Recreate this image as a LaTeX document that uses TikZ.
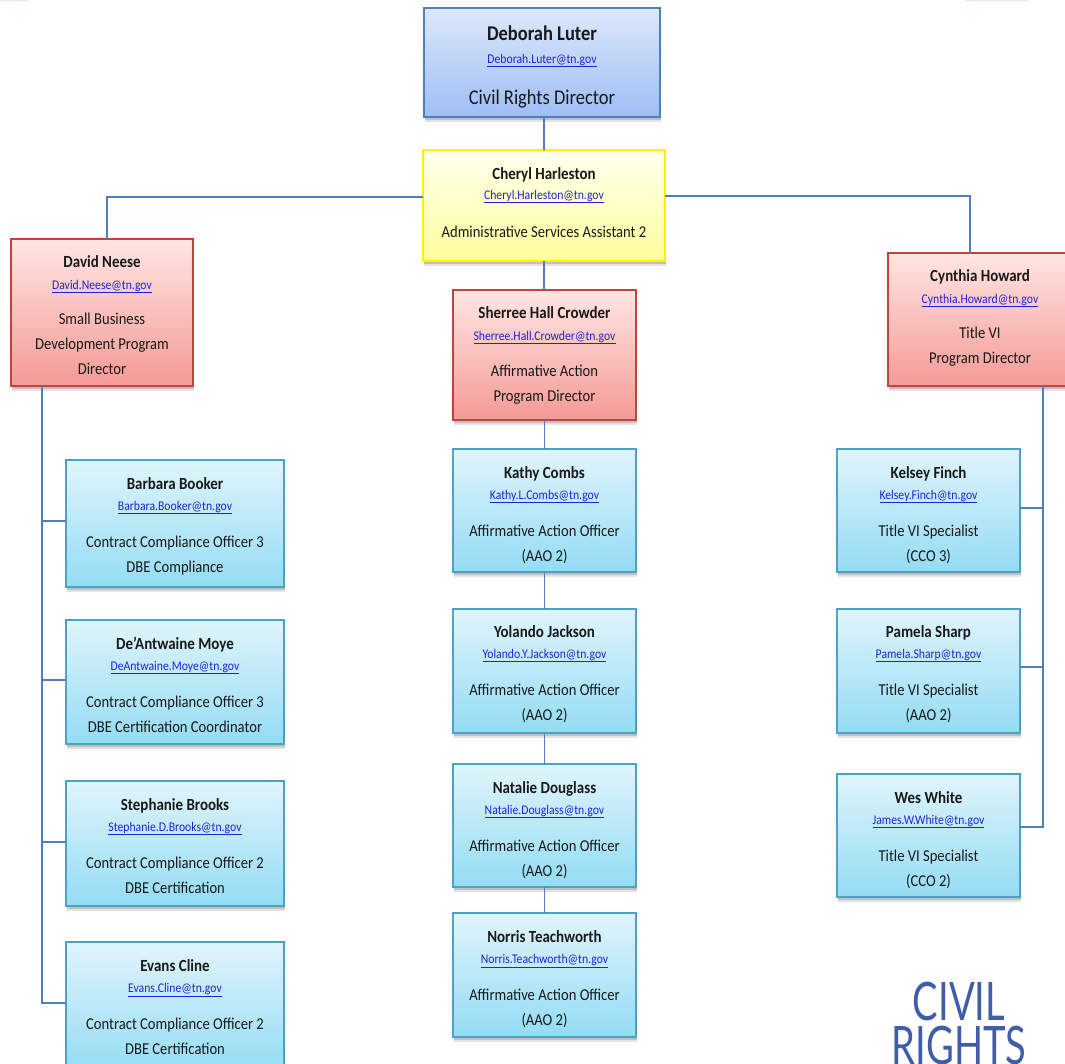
\documentclass[tikz,border=0pt]{standalone}
\usepackage{graphicx}
\usepackage{fontspec}
\setmainfont{Carlito}[FakeStretch=0.88]
\newfontfamily\logofont{Lato}
\usetikzlibrary{shadows,calc}
\definecolor{linkblue}{HTML}{2222D8}
\definecolor{wire}{HTML}{4F7FBC}
\definecolor{bluetop}{HTML}{DDE8FB}
\definecolor{bluebot}{HTML}{9EBEF5}
\definecolor{redtop}{HTML}{FFE6E3}
\definecolor{redbot}{HTML}{F49A96}
\definecolor{redline}{HTML}{C4413D}
\definecolor{cyantop}{HTML}{E0F5FC}
\definecolor{cyanbot}{HTML}{93DCF3}
\definecolor{cyanline}{HTML}{4BA3BF}
\definecolor{yeltop}{HTML}{FFFFF0}
\definecolor{yelbot}{HTML}{FFFF9A}
\definecolor{logoblue}{HTML}{3F5DA8}
\newcommand{\nm}[1]{{\fontsize{17}{25}\selectfont\textbf{#1}}}
\newcommand{\ml}[1]{{\fontsize{13.3}{25}\selectfont\color{linkblue}\underline{#1}}}
\newcommand{\pbox}[9]{%
  \node[person,#2,minimum width={(#5-#3)*1pt},minimum height={(#6-#4)*1pt}] (#1)
    at ({(#3+#5)/2},{(#4+#6)/2}) {\rule{0pt}{#7pt}#9\rule[-#8pt]{0pt}{#8pt}};}
\tikzset{
  person/.style={rectangle,inner sep=0pt,outer sep=0pt,align=center,text=black!90,
    font=\fontsize{16.6}{25}\selectfont,
    drop shadow={shadow xshift=1pt,shadow yshift=-4.5pt,opacity=.16,fill=black!70},
    drop shadow={shadow xshift=.5pt,shadow yshift=-2.5pt,opacity=.22,fill=black!70}},
  bluebox/.style={draw=wire,line width=2pt,top color=bluetop,bottom color=bluebot},
  yellowbox/.style={draw=yellow,line width=2.5pt,top color=yeltop,bottom color=yelbot},
  redbox/.style={draw=redline,line width=1.5pt,top color=redtop,bottom color=redbot},
  cyanbox/.style={draw=cyanline,line width=1.6pt,top color=cyantop,bottom color=cyanbot},
  wireline/.style={draw=wire,line width=1.7pt},
  logo/.style={inner sep=0pt,align=center,text=logoblue,font=\logofont\fontsize{53}{44}\selectfont}
}
\begin{document}
\begin{tikzpicture}[x=1pt,y=-1pt]
\useasboundingbox (0,0) rectangle (1065,1063);
\clip (0,0) rectangle (1065,1063);
\fill[bluetop] (0,0) rectangle (28,1.2);
\fill[bluetop] (965,0) rectangle (1028,1.2);
\pbox{deb}{bluebox}{424}{8}{660}{117}{32}{13}{{\fontsize{21}{25}\selectfont\textbf{Deborah Luter}}\\[-2pt]\ml{Deborah.Luter@tn.gov}\\[16pt]{\fontsize{21}{25}\selectfont Civil Rights Director}}
\pbox{che}{yellowbox}{423}{150}{665}{261}{29}{24}{\nm{Cheryl Harleston}\\[-5pt]\ml{Cheryl.Harleston@tn.gov}\\[13pt]Administrative Services Assistant 2}
\pbox{dav}{redbox}{11}{239}{193}{386}{28}{12}{\nm{David Neese}\\[-3pt]\ml{David.Neese@tn.gov}\\[10pt]Small Business\\Development Program\\Director}
\pbox{cyn}{redbox}{888}{253}{1072}{386}{28}{23}{\nm{Cynthia Howard}\\[-3pt]\ml{Cynthia.Howard@tn.gov}\\[10pt]Title VI\\Program Director}
\pbox{she}{redbox}{453}{290}{636}{420}{28}{19}{\nm{Sherree Hall Crowder}\\[-3pt]\ml{Sherree.Hall.Crowder@tn.gov}\\[11pt]Affirmative Action\\Program Director}
\pbox{kat}{cyanbox}{453}{449}{636}{572}{29}{11}{\nm{Kathy Combs}\\[-4pt]\ml{Kathy.L.Combs@tn.gov}\\[12pt]Affirmative Action Officer\\(AAO 2)}
\pbox{yol}{cyanbox}{453}{609}{636}{733}{28}{13}{\nm{Yolando Jackson}\\[-4pt]\ml{Yolando.Y.Jackson@tn.gov}\\[12pt]Affirmative Action Officer\\(AAO 2)}
\pbox{nat}{cyanbox}{453}{764}{636}{887}{29}{11}{\nm{Natalie Douglass}\\[-4pt]\ml{Natalie.Douglass@tn.gov}\\[12pt]Affirmative Action Officer\\(AAO 2)}
\pbox{nor}{cyanbox}{453}{913}{636}{1037}{29}{12}{\nm{Norris Teachworth}\\[-4pt]\ml{Norris.Teachworth@tn.gov}\\[12pt]Affirmative Action Officer\\(AAO 2)}
\pbox{bar}{cyanbox}{66}{460}{284}{587}{29}{15}{\nm{Barbara Booker}\\[-4pt]\ml{Barbara.Booker@tn.gov}\\[12pt]Contract Compliance Officer 3\\DBE Compliance}
\pbox{moy}{cyanbox}{66}{620}{284}{744}{29}{12}{\nm{De’Antwaine Moye}\\[-4pt]\ml{DeAntwaine.Moye@tn.gov}\\[12pt]Contract Compliance Officer 3\\DBE Certification Coordinator}
\pbox{ste}{cyanbox}{66}{781}{284}{906}{29}{13}{\nm{Stephanie Brooks}\\[-4pt]\ml{Stephanie.D.Brooks@tn.gov}\\[12pt]Contract Compliance Officer 2\\DBE Certification}
\pbox{eva}{cyanbox}{66}{942}{284}{1072}{29}{18}{\nm{Evans Cline}\\[-4pt]\ml{Evans.Cline@tn.gov}\\[12pt]Contract Compliance Officer 2\\DBE Certification}
\pbox{kel}{cyanbox}{837}{449}{1020}{572}{29}{11}{\nm{Kelsey Finch}\\[-4pt]\ml{Kelsey.Finch@tn.gov}\\[12pt]Title VI Specialist\\(CCO 3)}
\pbox{pam}{cyanbox}{837}{609}{1020}{733}{28}{13}{\nm{Pamela Sharp}\\[-4pt]\ml{Pamela.Sharp@tn.gov}\\[12pt]Title VI Specialist\\(AAO 2)}
\pbox{wes}{cyanbox}{837}{774}{1020}{897}{29}{11}{\nm{Wes White}\\[-4pt]\ml{James.W.White@tn.gov}\\[12pt]Title VI Specialist\\(CCO 2)}
% connectors
\draw[wireline] (che.north) -- (che.north |- deb.south);
\draw[wireline] ([yshift=8.5pt]che.west) -| ([xshift=5pt]dav.north);
\draw[wireline] ([yshift=9.5pt]che.east) -| ([xshift=-10pt]cyn.north);
\draw[wireline] (che.south) -- (che.south |- she.north);
\draw[wireline] (she.south) -- (kat.north);
\draw[wireline] (kat.south) -- (yol.north);
\draw[wireline] (yol.south) -- (nat.north);
\draw[wireline] (nat.south) -- (nor.north);
\coordinate (davtrunk) at ([xshift=-60pt]dav.south);
\coordinate (cyntrunk) at ([xshift=63pt]cyn.south);
\draw[wireline] (davtrunk) |- ([yshift=2.5pt]bar.west);
\draw[wireline] (davtrunk) |- ([yshift=2pt]moy.west);
\draw[wireline] (davtrunk) |- ([yshift=1.5pt]ste.west);
\draw[wireline] (davtrunk) |- ([yshift=4pt]eva.west);
\draw[wireline] (cyntrunk) |- ([yshift=2.5pt]kel.east);
\draw[wireline] (cyntrunk) |- ([yshift=4pt]pam.east);
\draw[wireline] (cyntrunk) |- ([yshift=8.5pt]wes.east);
% logo
\node[logo,anchor=base] (civilrights) at (959,1064) {\scalebox{0.72}[1]{CIVIL}\\\scalebox{0.72}[1]{RIGHTS}};
\end{tikzpicture}
\end{document}
